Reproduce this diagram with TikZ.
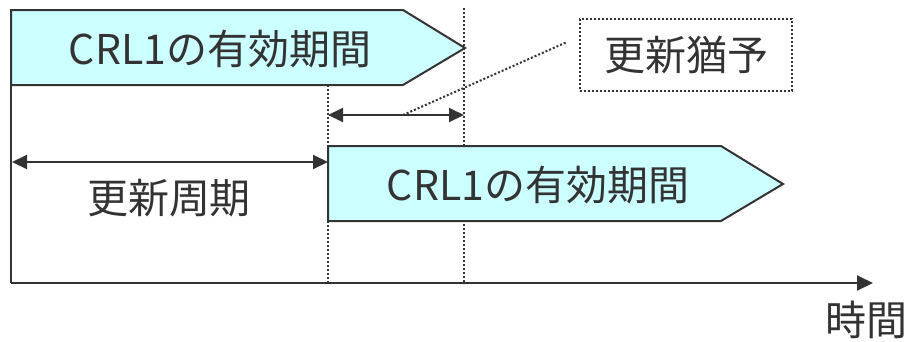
\documentclass[tikz,border=0pt]{standalone}
\usepackage{fontspec}
\setmainfont{Noto Sans CJK JP}
\usetikzlibrary{arrows.meta}
\definecolor{bandfill}{HTML}{CCFFFF}
\definecolor{ink}{HTML}{333333}
\begin{document}
\begin{tikzpicture}[x=1pt,y=-1pt,
  band/.style={draw=ink,fill=bandfill,line width=2pt,line join=miter},
  lbl/.style={text=ink,inner sep=0pt,font=\fontsize{41}{48}\selectfont},
  guide/.style={draw=ink,line width=2pt,dash pattern=on 2pt off 2pt},
  dim/.style={draw=ink,line width=2pt,{Triangle[length=15pt,width=14pt]}-{Triangle[length=15pt,width=14pt]}},
  axis/.style={draw=ink,line width=2pt}]
\useasboundingbox (0,0) rectangle (906,341);
% key coordinates
\coordinate (O) at (11,283);
\coordinate (Otop) at (11,85);
\coordinate (Xend) at (873,283);
\coordinate (Ltop) at (328,85);
\coordinate (Lbot) at (328,283);
\coordinate (Rtop) at (464,8);
\coordinate (Rbot) at (464,283);
% guides
\draw[guide] (Ltop) -- (Lbot);
\draw[guide] (Rtop) -- (Rbot);
% first validity band
\draw[band] (11,10) -- (403,10) -- (465,48) -- (403,85) -- (11,85) -- cycle;
\node[lbl] (band1) at (220,49) {CRL1の有効期間};
% second validity band
\draw[band] (328,146) -- (721,146) -- (783,184) -- (721,221) -- (328,221) -- cycle;
\node[lbl] (band2) at (538,185) {CRL1の有効期間};
% axes
\draw[axis] (Otop) -- (O);
\draw[axis,-{Triangle[length=16pt,width=15pt]}] (O) -- (Xend);
\node[lbl] (time) at (866,320) {時間};
% update cycle
\coordinate (c1) at (12,162);
\coordinate (c2) at (328,162);
\draw[dim] (c1) -- (c2);
\node[lbl] (cycle) at (169,198) {更新周期};
% grace period
\coordinate (g1) at (328,115);
\coordinate (g2) at (464,115);
\draw[dim] (g1) -- (g2);
\coordinate (gmid) at (403,115);
\node[lbl,draw=ink,line width=2pt,dash pattern=on 2pt off 2pt,minimum width=212pt,minimum height=72pt] (grace) at (686,55) {更新猶予};
\coordinate (lead) at (567,42);
\draw[guide] (gmid) -- (lead);
\end{tikzpicture}
\end{document}
